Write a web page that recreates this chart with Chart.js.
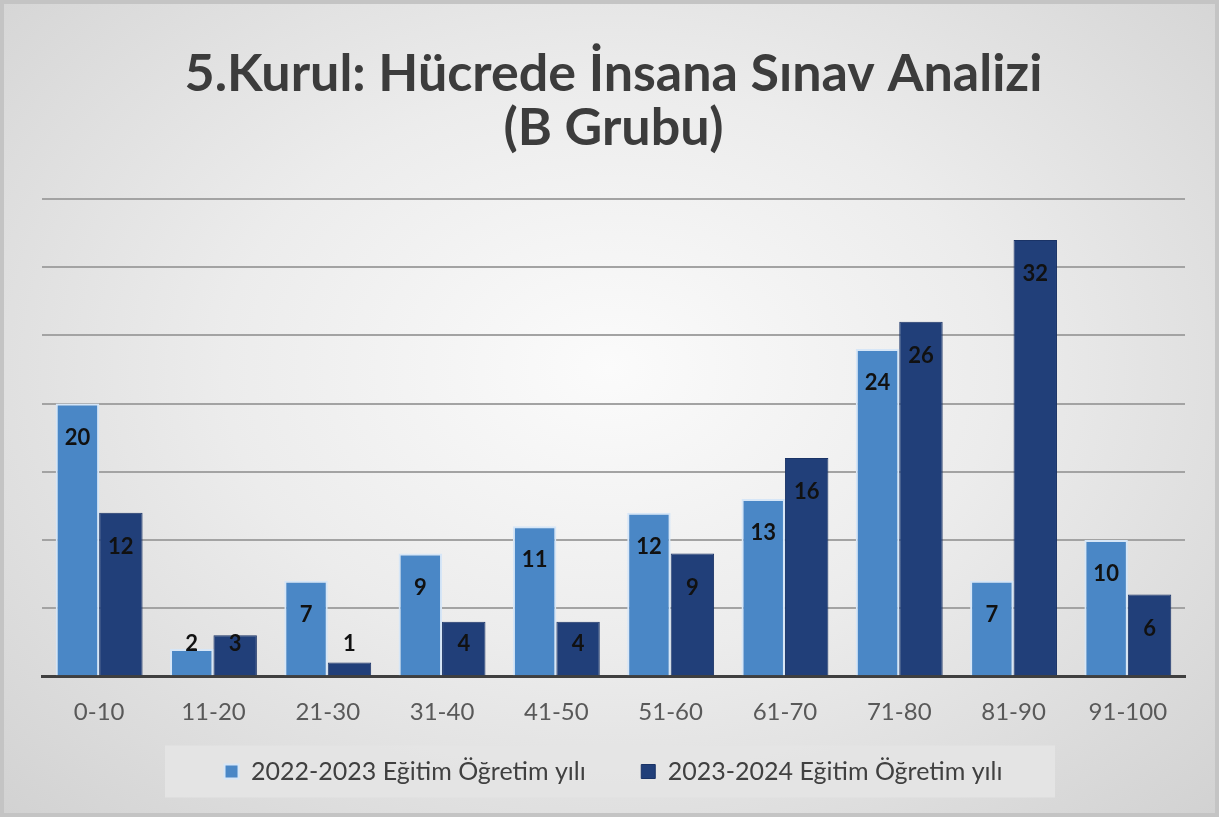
<!DOCTYPE html>
<html>
<head>
<meta charset="utf-8">
<script src="https://cdn.jsdelivr.net/npm/chart.js@4"></script>
<style>
  html, body { margin: 0; padding: 0; }
  #wrap {
    width: 1219px; height: 817px; box-sizing: border-box;
    border: 4px solid #c4c4c4;
    background: radial-gradient(ellipse at 50% 45%, #fbfbfb 0%, #ececec 45%, #d2d2d2 100%);
  }
</style>
</head>
<body>
<div id="wrap"><canvas id="sinavChart" width="1211" height="809"></canvas></div>
<script>
const categories = ['0-10', '11-20', '21-30', '31-40', '41-50', '51-60', '61-70', '71-80', '81-90', '91-100'];
const seriesNames = ['2022-2023 Eğitim Öğretim yılı', '2023-2024 Eğitim Öğretim yılı'];
const values2022 = [20, 2, 7, 9, 11, 12, 13, 24, 7, 10];
const values2023 = [12, 3, 1, 4, 4, 9, 16, 26, 32, 6];
const yTicks = [0, 5, 10, 15, 20, 25, 30, 35];

const FONT = 'Lato, "Open Sans", sans-serif';

// gray box behind the legend
const legendBox = {
  id: 'legendBox',
  beforeDraw(chart) {
    const l = chart.legend;
    if (!l) return;
    const c = chart.ctx;
    const mid = l.legendHitBoxes.length ? l.legendHitBoxes[0].top + l.legendHitBoxes[0].height / 2 : l.top + l.height / 2;
    c.save();
    c.fillStyle = 'rgba(228,228,228,0.9)';
    c.fillRect(161, mid - 26, 890, 52);
    c.restore();
  }
};

// value labels near the top of each bar, like Excel "inside end"
const barLabels = {
  id: 'barLabels',
  afterDatasetsDraw(chart) {
    const c = chart.ctx;
    const base = chart.scales.y.getPixelForValue(0);
    c.save();
    c.font = 'bold 22px ' + FONT;
    c.fillStyle = '#111111';
    c.textAlign = 'center';
    c.textBaseline = 'middle';
    chart.data.datasets.forEach((ds, i) => {
      chart.getDatasetMeta(i).data.forEach((bar, j) => {
        const y = Math.min(bar.y + 34, base - 32);
        c.fillText(ds.data[j], bar.x, y);
      });
    });
    c.restore();
  }
};

new Chart(document.getElementById('sinavChart'), {
  type: 'bar',
  data: {
    labels: categories,
    datasets: [{
      label: seriesNames[0],
      data: values2022,
      backgroundColor: '#4a87c6',
      borderColor: '#d6e6f7',
      borderWidth: 2,
      borderSkipped: 'bottom'
    }, {
      label: seriesNames[1],
      data: values2023,
      backgroundColor: '#213f79',
      borderColor: '#1a3366',
      borderWidth: 1,
      borderSkipped: 'bottom'
    }]
  },
  options: {
    responsive: false,
    animation: false,
    categoryPercentage: 0.76,
    barPercentage: 1.0,
    layout: { padding: { top: 43, left: 38, right: 30, bottom: 19 } },
    scales: {
      x: {
        grid: { display: false },
        border: { color: '#3f3f3f', width: 3 },
        ticks: { color: '#595959', font: { family: FONT, size: 24 }, padding: 14 }
      },
      y: {
        min: 0, max: 35,
        afterBuildTicks(axis) { axis.ticks = yTicks.map(v => ({ value: v })); },
        ticks: { display: false },
        border: { display: false },
        grid: { color: '#a3a3a3', lineWidth: 2, drawTicks: false }
      }
    },
    plugins: {
      title: {
        display: true,
        text: ['5.Kurul: Hücrede İnsana Sınav Analizi', '(B Grubu)'],
        color: '#3c3c3c',
        font: { family: FONT, size: 52, weight: 'bold', lineHeight: 1.04 },
        padding: { top: 0, bottom: 44 }
      },
      legend: {
        position: 'bottom',
        labels: {
          color: '#404040',
          font: { family: FONT, size: 25 },
          boxWidth: 14, boxHeight: 14,
          padding: 18,
          generateLabels(chart) {
            const items = Chart.defaults.plugins.legend.labels.generateLabels(chart);
            items[0].text += '\u2003\u2003';
            return items;
          }
        }
      },
      tooltip: { enabled: false }
    }
  },
  plugins: [legendBox, barLabels]
});
</script>
</body>
</html>
